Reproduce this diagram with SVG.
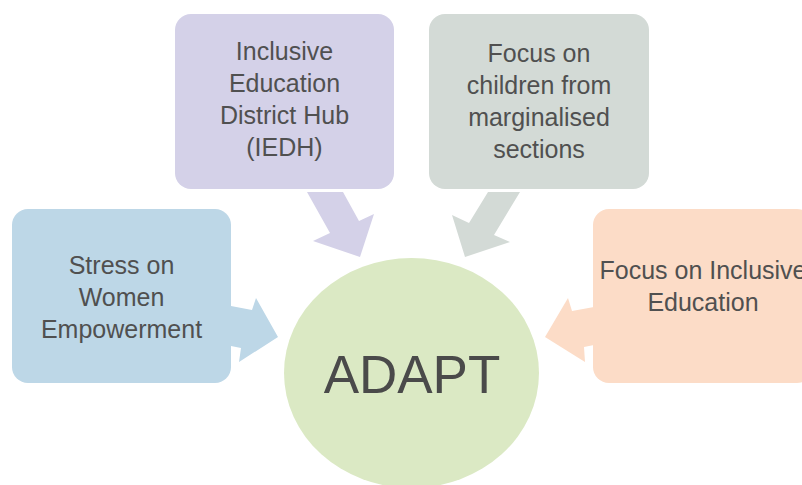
<svg xmlns="http://www.w3.org/2000/svg" width="802" height="485" viewBox="0 0 802 485">
<style>
.t{font-family:"Liberation Sans",Arial,sans-serif;font-size:25px;fill:#505050;text-anchor:middle}
.big{font-family:"Liberation Sans",Arial,sans-serif;font-size:53px;fill:#4a4a4a;text-anchor:middle}
</style>
<rect width="802" height="485" fill="#ffffff"/>
<g id="connectors">
<polygon points="307,192 343,192 359,221 374,214 360,257 313,241 330,233" fill="#d4d1e8"/>
<polygon points="488,192 520,192 494,235 510,242 465,257 452,215 469,223" fill="#d3dad6"/>
<polygon points="231,306 252,310 256,298 278,337 239,362 241,348 231,346" fill="#bdd7e7"/>
<polygon points="594,307 572,311 568,298 545,337 585,362 584,347 594,345" fill="#fcdcc7"/>
</g>
<g id="adapt">
<ellipse cx="411.5" cy="373" rx="127.5" ry="115" fill="#dbe9c4"/>
<text class="big" x="412" y="393">ADAPT</text>
</g>
<g id="iedh">
<rect x="175" y="14" width="219" height="175" rx="16" fill="#d4d1e8"/>
<text class="t" x="284.5" y="60">Inclusive</text>
<text class="t" x="284.5" y="92">Education</text>
<text class="t" x="284.5" y="124">District Hub</text>
<text class="t" x="284.5" y="156">(IEDH)</text>
</g>
<g id="children">
<rect x="429" y="14" width="220" height="175" rx="16" fill="#d3dad6"/>
<text class="t" x="539" y="62">Focus on</text>
<text class="t" x="539" y="94">children from</text>
<text class="t" x="539" y="126">marginalised</text>
<text class="t" x="539" y="158">sections</text>
</g>
<g id="women">
<rect x="12" y="209" width="219" height="174" rx="16" fill="#bdd7e7"/>
<text class="t" x="121.5" y="274">Stress on</text>
<text class="t" x="121.5" y="306">Women</text>
<text class="t" x="121.5" y="338">Empowerment</text>
</g>
<g id="inclusive">
<rect x="593" y="209" width="220" height="174" rx="16" fill="#fcdcc7"/>
<text class="t" x="703" y="279">Focus on Inclusive</text>
<text class="t" x="703" y="311">Education</text>
</g>
</svg>
